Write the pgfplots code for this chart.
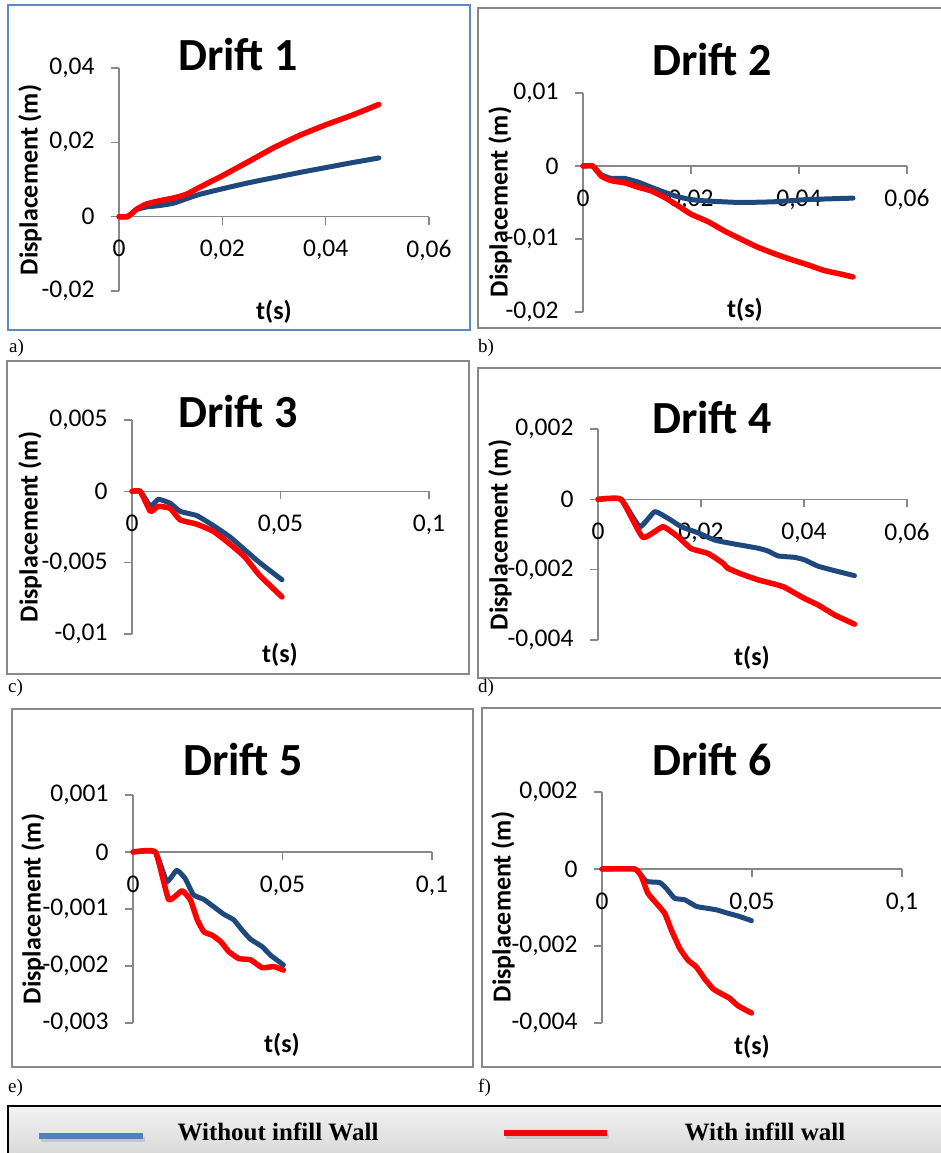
\documentclass[border=0pt]{standalone}
\usepackage{pgfplots}
\pgfplotsset{compat=1.18}
\usepackage{fontspec}
\setmainfont{Carlito}
\newfontfamily\timesfont{Liberation Serif}
\definecolor{axgray}{HTML}{888888}
\definecolor{navy}{HTML}{1F497D}
\definecolor{legblue}{HTML}{4F81BD}
\definecolor{framblue}{HTML}{5B8BC5}
\pgfplotsset{
  drift/.style={
    scale only axis, clip=false, scaled ticks=false,
    axis x line*=middle, axis y line*=left,
    axis line style={draw=axgray, line width=1.3pt},
    tick style={draw=axgray, line width=1.3pt},
    major tick length=8pt, tick align=outside,
    ticklabel style={font=\fontsize{25.5}{27}\selectfont, text=black},
    yticklabel style={xshift=-13pt},
    xticklabel style={yshift=-12pt},
    hide obscured x ticks=false, hide obscured y ticks=false,
    anchor=south west,
  },
  bl/.style={navy, line width=5pt, line join=round, line cap=round, smooth, tension=0.25},
  rd/.style={red, line width=5.5pt, line join=round, line cap=round, smooth, tension=0.25},
}
\newcommand{\ttl}[3]{\node[font=\fontsize{46}{50}\selectfont\bfseries] at (#1pt,-#2pt) {#3};}
\newcommand{\ylab}[2]{\node[font=\fontsize{26}{28}\selectfont\bfseries, rotate=90] at (#1pt,-#2pt) {Displacement (m)};}
\newcommand{\xlab}[2]{\node[font=\fontsize{26}{28}\selectfont\bfseries] at (#1pt,-#2pt) {t(s)};}
\newcommand{\plab}[3]{\node[font=\timesfont\fontsize{19}{21}\selectfont, anchor=west, inner sep=0pt] at (#1pt,-#2pt) {#3};}
\begin{document}
\begin{tikzpicture}
\path[use as bounding box] (0,0) rectangle (941pt,-1153pt);
% frames
\draw[framblue, line width=2pt] (8pt,-5pt) rectangle (470pt,-330pt);
\draw[axgray, line width=2pt] (478pt,-8pt) rectangle (945pt,-328pt);
\draw[axgray, line width=2pt] (7pt,-361pt) rectangle (469pt,-674pt);
\draw[axgray, line width=2pt] (478pt,-368pt) rectangle (945pt,-678pt);
\draw[axgray, line width=2pt] (12pt,-709pt) rectangle (473pt,-1067pt);
\draw[axgray, line width=2pt] (482pt,-708pt) rectangle (945pt,-1067pt);

% ---------- a ----------
\begin{axis}[drift, at={(119pt,-291pt)}, width=310pt, height=223pt,
  xmin=0, xmax=0.06, ymin=-0.02, ymax=0.04,
  xtick={0,0.02,0.04,0.06}, xticklabels={0,{0,02},{0,04},{0,06}},
  ytick={-0.02,0,0.02,0.04}, yticklabels={{-0,02},0,{0,02},{0,04}}]
\addplot[bl] coordinates {(0,0)(0.0017,0)(0.0034,0.0019)(0.0053,0.0026)(0.0079,0.003)(0.0105,0.0036)(0.013,0.0048)(0.0156,0.006)(0.02,0.0075)(0.025,0.0091)(0.03,0.0105)(0.035,0.0119)(0.04,0.0132)(0.045,0.0145)(0.0503,0.0158)};
\addplot[rd] coordinates {(0,0)(0.0017,0)(0.0034,0.002)(0.0053,0.0034)(0.0079,0.0043)(0.0105,0.005)(0.013,0.006)(0.0156,0.0079)(0.02,0.011)(0.0253,0.015)(0.03,0.0186)(0.035,0.0219)(0.04,0.0247)(0.0453,0.0274)(0.0503,0.0302)};
\end{axis}
\ttl{238}{55}{Drift 1}
\ylab{30}{180}
\xlab{274}{312}

% ---------- b ----------
\begin{axis}[drift, at={(583pt,-312pt)}, width=324pt, height=219pt,
  xmin=0, xmax=0.06, ymin=-0.02, ymax=0.01,
  xtick={0,0.02,0.04,0.06}, xticklabels={0,{0,02},{0,04},{0,06}},
  ytick={-0.02,-0.01,0,0.01}, yticklabels={{-0,02},{-0,01},0,{0,01}}]
\addplot[bl] coordinates {(0,0)(0.0018,0)(0.0034,-0.0012)(0.0052,-0.0017)(0.0077,-0.0017)(0.0102,-0.0022)(0.0126,-0.0029)(0.0151,-0.0036)(0.0175,-0.0042)(0.02,-0.0046)(0.0231,-0.0048)(0.0292,-0.005)(0.0354,-0.0049)(0.0415,-0.0046)(0.05,-0.0044)};
\addplot[rd] coordinates {(0,0)(0.0018,0)(0.0034,-0.0014)(0.0052,-0.002)(0.0077,-0.0023)(0.0102,-0.0029)(0.0126,-0.0034)(0.0151,-0.0043)(0.0175,-0.0054)(0.02,-0.0066)(0.0231,-0.0076)(0.0262,-0.0089)(0.0292,-0.01)(0.0323,-0.0111)(0.0354,-0.012)(0.0385,-0.0128)(0.0415,-0.0135)(0.0446,-0.0143)(0.0477,-0.0148)(0.05,-0.0152)};
\end{axis}
\ttl{712}{60}{Drift 2}
\ylab{500}{202}
\xlab{745}{310}

% ---------- c ----------
\begin{axis}[drift, at={(132pt,-634pt)}, width=297pt, height=214pt,
  xmin=0, xmax=0.1, ymin=-0.01, ymax=0.005,
  xtick={0,0.05,0.1}, xticklabels={0,{0,05},{0,1}},
  ytick={-0.01,-0.005,0,0.005}, yticklabels={{-0,01},{-0,005},0,{0,005}}]
\addplot[bl] coordinates {(0,0)(0.0028,0)(0.0062,-0.00103)(0.0089,-0.00056)(0.0129,-0.00084)(0.0162,-0.0014)(0.0218,-0.0017)(0.0274,-0.0024)(0.033,-0.0032)(0.038,-0.0041)(0.043,-0.005)(0.0505,-0.0062)};
\addplot[rd] coordinates {(0,0)(0.0028,0)(0.0062,-0.0014)(0.0089,-0.00105)(0.0129,-0.0012)(0.0162,-0.002)(0.0218,-0.0023)(0.0274,-0.0028)(0.033,-0.0037)(0.038,-0.0046)(0.043,-0.0059)(0.0505,-0.0074)};
\end{axis}
\ttl{238}{412}{Drift 3}
\ylab{30}{527}
\xlab{280}{655}

% ---------- d ----------
\begin{axis}[drift, at={(598pt,-640pt)}, width=309pt, height=211pt,
  xmin=0, xmax=0.06, ymin=-0.004, ymax=0.002,
  xtick={0,0.02,0.04,0.06}, xticklabels={0,{0,02},{0,04},{0,06}},
  ytick={-0.004,-0.002,0,0.002}, yticklabels={{-0,004},{-0,002},0,{0,002}}]
\addplot[bl] coordinates {(0,0)(0.0045,0)(0.0081,-0.00078)(0.011,-0.00035)(0.0136,-0.00054)(0.0162,-0.00078)(0.0194,-0.00095)(0.0227,-0.00116)(0.0265,-0.00127)(0.0311,-0.00139)(0.033,-0.00147)(0.035,-0.00161)(0.0382,-0.00165)(0.0401,-0.00172)(0.0427,-0.0019)(0.046,-0.00203)(0.0498,-0.00217)};
\addplot[rd] coordinates {(0,0)(0.0045,0)(0.0087,-0.00108)(0.0126,-0.00078)(0.0155,-0.00106)(0.0181,-0.0014)(0.0214,-0.00154)(0.0243,-0.00182)(0.0252,-0.00196)(0.0278,-0.00212)(0.0311,-0.00229)(0.0343,-0.00241)(0.0362,-0.0025)(0.0401,-0.00282)(0.0427,-0.003)(0.046,-0.00329)(0.0498,-0.00355)};
\end{axis}
\ttl{712}{418}{Drift 4}
\ylab{500}{535}
\xlab{752}{658}

% ---------- e ----------
\begin{axis}[drift, at={(133pt,-1023pt)}, width=299pt, height=228pt,
  xmin=0, xmax=0.1, ymin=-0.003, ymax=0.001,
  xtick={0,0.05,0.1}, xticklabels={0,{0,05},{0,1}},
  ytick={-0.003,-0.002,-0.001,0,0.001}, yticklabels={{-0,003},{-0,002},{-0,001},0,{0,001}}]
\addplot[bl] coordinates {(0,0)(0.0075,0)(0.0113,-0.00052)(0.0146,-0.00032)(0.0174,-0.00046)(0.0202,-0.00075)(0.0236,-0.00083)(0.027,-0.00096)(0.0303,-0.00109)(0.0337,-0.00119)(0.0365,-0.00137)(0.0393,-0.00153)(0.0432,-0.00166)(0.046,-0.00181)(0.0503,-0.00198)};
\addplot[rd] coordinates {(0,0)(0.0075,0)(0.0119,-0.00083)(0.0164,-0.00068)(0.0192,-0.00084)(0.0215,-0.00119)(0.0237,-0.0014)(0.0265,-0.00146)(0.0293,-0.00157)(0.0321,-0.00175)(0.0354,-0.00187)(0.0393,-0.00189)(0.0432,-0.00203)(0.0471,-0.00201)(0.0503,-0.00207)};
\end{axis}
\ttl{243}{760}{Drift 5}
\ylab{33}{909}
\xlab{282}{1045}

% ---------- f ----------
\begin{axis}[drift, at={(602pt,-1023pt)}, width=300pt, height=231pt,
  xmin=0, xmax=0.1, ymin=-0.004, ymax=0.002,
  xtick={0,0.05,0.1}, xticklabels={0,{0,05},{0,1}},
  ytick={-0.004,-0.002,0,0.002}, yticklabels={{-0,004},{-0,002},0,{0,002}}]
\addplot[bl] coordinates {(0,0)(0.0109,0)(0.0148,-0.00032)(0.0192,-0.00035)(0.0214,-0.0005)(0.0242,-0.00076)(0.0276,-0.0008)(0.0314,-0.00097)(0.0342,-0.00101)(0.0381,-0.00106)(0.042,-0.00115)(0.0453,-0.00122)(0.0498,-0.00134)};
\addplot[rd] coordinates {(0,0)(0.0109,0)(0.0131,-0.00019)(0.0153,-0.00063)(0.0181,-0.00089)(0.0209,-0.00115)(0.0231,-0.00158)(0.0259,-0.00206)(0.0287,-0.00237)(0.0314,-0.00254)(0.0342,-0.00285)(0.037,-0.00311)(0.0398,-0.00324)(0.0426,-0.00336)(0.0453,-0.00355)(0.0498,-0.00374)};
\end{axis}
\ttl{712}{760}{Drift 6}
\ylab{503}{907}
\xlab{752}{1047}

% panel letters
\plab{9}{348}{a)}
\plab{478}{348}{b)}
\plab{8}{688}{c)}
\plab{478}{688}{d)}
\plab{8}{1088}{e)}
\plab{478}{1088}{f)}

% legend box
\shade[top color=gray!10, bottom color=gray!32] (8pt,-1106pt) rectangle (945pt,-1160pt);
\draw[black, line width=1.5pt] (8pt,-1160pt) -- (8pt,-1106pt) -- (945pt,-1106pt);
\draw[gray!45, line width=5pt] (41pt,-1139pt) -- (145pt,-1139pt);
\draw[legblue, line width=6pt] (39pt,-1136pt) -- (143pt,-1136pt);
\draw[gray!45, line width=5pt] (506pt,-1136pt) -- (609pt,-1136pt);
\draw[red, line width=6pt] (504pt,-1133pt) -- (607pt,-1133pt);
\node[font=\timesfont\bfseries\fontsize{25}{27}\selectfont] at (278pt,-1132pt) {Without infill Wall};
\node[font=\timesfont\bfseries\fontsize{25}{27}\selectfont] at (765pt,-1132pt) {With infill wall};
\end{tikzpicture}
\end{document}
